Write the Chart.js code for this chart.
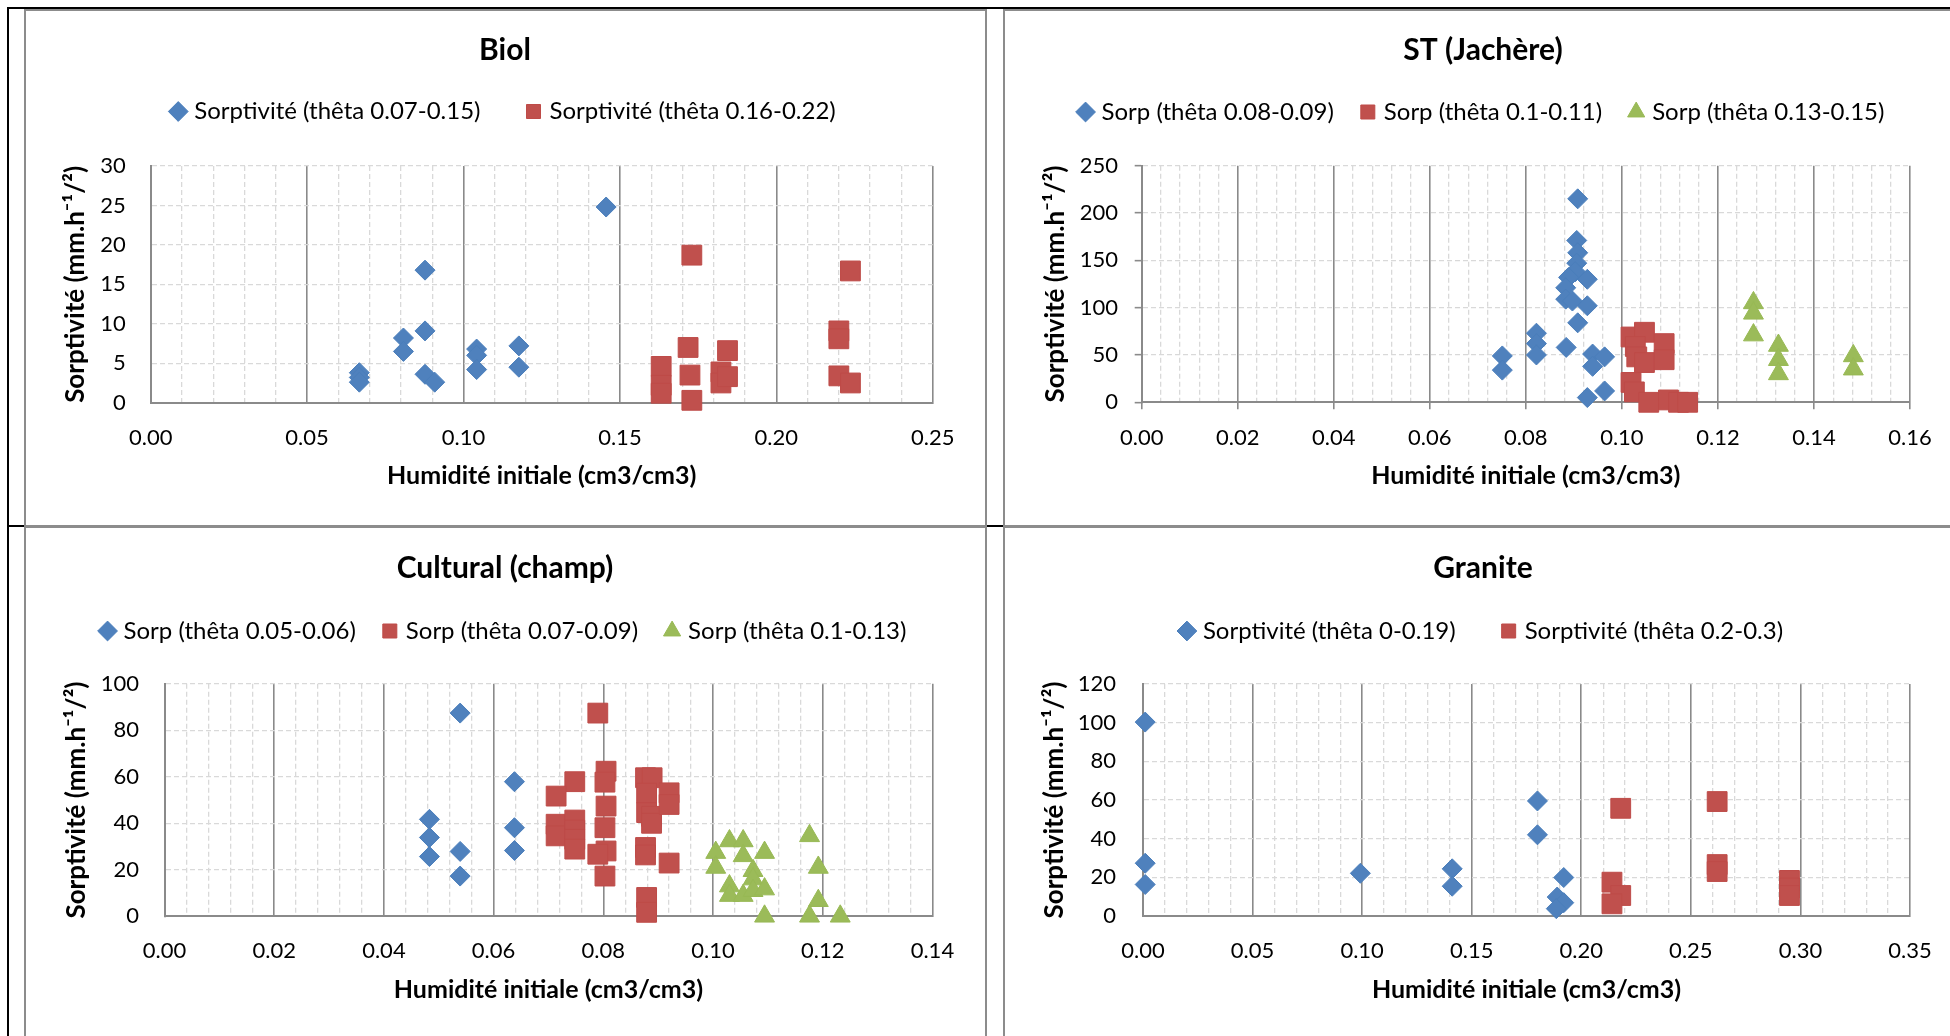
<!DOCTYPE html>
<html lang="fr">
<head>
<meta charset="utf-8">
<title>Sorptivité en fonction de l'humidité initiale</title>
<script src="https://cdn.jsdelivr.net/npm/chart.js@4.4.1/dist/chart.umd.min.js"></script>
<style>
    html, body { margin: 0; padding: 0; background: #fff; width: 1950px; height: 1036px; overflow: hidden; }
    .trait  { position: absolute; background: #000; }
    .cadre  { position: absolute; border: 2px solid #8c8c8c; box-sizing: border-box; }
    canvas  { position: absolute; }
</style>
</head>
<body>

<div class="trait" style="left:7px;top:7px;width:1943px;height:2px"></div>
<div class="trait" style="left:7px;top:7px;width:2px;height:1029px"></div>
<div class="trait" style="left:9px;top:525px;width:15px;height:2px"></div>
<div class="trait" style="left:987px;top:525px;width:16px;height:2px"></div>

<div class="cadre" style="left:24px;top:9px;width:963px;height:519px"></div>
<div class="cadre" style="left:1003px;top:9px;width:960px;height:519px"></div>
<div class="cadre" style="left:24px;top:525px;width:963px;height:600px"></div>
<div class="cadre" style="left:1003px;top:525px;width:960px;height:600px"></div>

<canvas id="cBiol"     width="960" height="515" style="left:25px;top:10px"></canvas>
<canvas id="cJachere"  width="960" height="515" style="left:1003px;top:10px"></canvas>
<canvas id="cCultural" width="960" height="515" style="left:25px;top:526px"></canvas>
<canvas id="cGranite"  width="960" height="515" style="left:1003px;top:526px"></canvas>

<script>
// --- Biol
const biolBleuX  = [0.1456, 0.0877, 0.0877, 0.0808, 0.0808, 0.0667, 0.0667, 0.0667, 0.0877, 0.0908, 0.1042, 0.1042, 0.1042, 0.1177, 0.1177];
const biolBleuY  = [24.8, 16.8, 9.1, 8.2, 6.5, 3.8, 3.2, 2.6, 3.6, 2.6, 6.8, 6.0, 4.2, 7.2, 4.5];
const biolRougeX = [0.1730, 0.2237, 0.2200, 0.2200, 0.2200, 0.2237, 0.1718, 0.1844, 0.1632, 0.1632, 0.1632, 0.1724, 0.1730, 0.1823, 0.1823, 0.1844];
const biolRougeY = [18.7, 16.7, 9.1, 8.1, 3.4, 2.5, 7.0, 6.6, 4.6, 2.2, 1.2, 3.5, 0.3, 3.9, 2.5, 3.3];

// --- ST (Jachère)
const stBleuX  = [0.0908, 0.0906, 0.0908, 0.0906, 0.0903, 0.0889, 0.0928, 0.0883, 0.0883, 0.0897, 0.0928, 0.0908,
                  0.0822, 0.0822, 0.0822, 0.0884, 0.0751, 0.0751, 0.0939, 0.0964, 0.0939, 0.0964, 0.0928];
const stBleuY  = [215, 171, 158, 147, 138, 132, 130, 121, 109, 107, 102, 84,
                  73, 62, 50, 58, 49, 34, 51, 48, 38, 12, 5];
const stRougeX = [0.1019, 0.1047, 0.1028, 0.1031, 0.1047, 0.1088, 0.1088, 0.1019, 0.1026, 0.1056, 0.1097, 0.1118, 0.1137];
const stRougeY = [69, 74, 59, 48, 42, 62, 45, 21, 11, 0, 2.5, 0, 0];
const stVertX  = [0.1274, 0.1274, 0.1274, 0.1326, 0.1326, 0.1326, 0.1482, 0.1482];
const stVertY  = [105, 94, 71, 60, 45, 30, 49, 35];

// --- Cultural (champ)
const cultBleuX  = [0.0539, 0.0638, 0.0638, 0.0638, 0.0483, 0.0483, 0.0483, 0.0539, 0.0539];
const cultBleuY  = [87.4, 57.9, 38.1, 28.3, 41.7, 33.9, 25.7, 27.9, 17.3];
const cultRougeX = [0.0790, 0.0805, 0.0803, 0.0805, 0.0803, 0.0805, 0.0790, 0.0803, 0.0748, 0.0714, 0.0714, 0.0714,
                    0.0748, 0.0748, 0.0748, 0.0748, 0.0877, 0.0889, 0.0879, 0.0879, 0.0888, 0.0888, 0.0877, 0.0877,
                    0.0920, 0.0920, 0.0920, 0.0879, 0.0879];
const cultRougeY = [87.4, 62.4, 57.7, 47.4, 38.1, 28.1, 26.7, 17.3, 57.9, 51.7, 39.6, 34.6,
                    41.4, 37.1, 33.1, 28.9, 59.6, 59.6, 53.0, 44.6, 43.0, 40.0, 29.6, 26.4,
                    53.1, 48.1, 22.9, 8.1, 1.7];
const cultVertX  = [0.1005, 0.1005, 0.1030, 0.1055, 0.1055, 0.1094, 0.1073, 0.1073, 0.1030, 0.1030, 0.1055, 0.1073,
                    0.1094, 0.1094, 0.1176, 0.1192, 0.1192, 0.1176, 0.1232];
const cultVertY  = [27.4, 21.0, 32.4, 32.4, 26.0, 27.4, 19.6, 16.0, 13.0, 8.9, 8.9, 11.0,
                    11.7, 0, 34.6, 21.0, 6.7, 0, 0];

// --- Granite
const granBleuX  = [0.001, 0.001, 0.001, 0.0992, 0.1411, 0.1411, 0.180, 0.180, 0.192, 0.189, 0.192, 0.1886];
const granBleuY  = [100.3, 27.3, 16.3, 22.1, 24.4, 15.4, 59.5, 42.0, 19.9, 9.8, 6.9, 3.8];
const granRougeX = [0.218, 0.262, 0.262, 0.262, 0.214, 0.218, 0.214, 0.295, 0.295, 0.295];
const granRougeY = [55.7, 59.2, 26.6, 23.0, 17.5, 10.6, 6.3, 18.4, 14.5, 10.6];

const titreX = 'Humidité initiale (cm3/cm3)';
const titreY = 'Sorptivité (mm.h⁻¹/²)';

Chart.defaults.font.family = 'Lato, "Noto Sans", sans-serif';
Chart.defaults.color = '#000';

const GRIS = '#8a8a8a';
const GRIS_CLAIR = '#d9d9d9';

const pts = (xs, ys) => xs.map((x, i) => ({ x, y: ys[i] }));

function serie(label, xs, ys, forme) {
    const styles = {
        losange:  { pointStyle: 'rectRot',  pointRadius: 10,   backgroundColor: '#4F81BD', borderColor: '#4A7EBB' },
        carre:    { pointStyle: 'rect',     pointRadius: 14,   backgroundColor: '#C0504D', borderColor: '#BE4B48' },
        triangle: { pointStyle: 'triangle', pointRadius: 11.5, backgroundColor: '#9BBB59', borderColor: '#98B954' },
    };
    return {
        label,
        data: pts(xs, ys),
        showLine: false,
        clip: false,
        borderWidth: 1,
        xAxisID: 'x',
        yAxisID: 'y',
        ...styles[forme]
    };
}

function graphique(id, p) {
    const majeur = v => Math.abs(v / p.xMajor - Math.round(v / p.xMajor)) < 1e-6;

    return new Chart(document.getElementById(id), {
        type: 'scatter',
        data: { datasets: p.datasets },
        options: {
            responsive: false,
            animation: false,
            events: [],
            layout: { padding: { top: p.padTop, bottom: p.padBottom, left: 0, right: 0 } },
            plugins: {
                tooltip: { enabled: false },
                title: {
                    display: true,
                    text: p.titre,
                    color: '#000',
                    font: { size: 30, weight: 'bold', lineHeight: '1px' },
                    padding: { top: 0, bottom: p.titleGap }
                },
                legend: {
                    display: true,
                    position: 'top',
                    labels: {
                        usePointStyle: true,
                        boxWidth: 8,
                        boxHeight: 14,
                        padding: p.legendPad,
                        color: '#000',
                        font: { size: 24 }
                    }
                }
            },
            scales: {
                x: {
                    type: 'linear',
                    position: 'bottom',
                    min: 0,
                    max: p.xMax,
                    afterFit: s => { s.height = p.xHeight; },
                    ticks: {
                        stepSize: p.xStep,
                        autoSkip: false,
                        maxRotation: 0,
                        minRotation: 0,
                        padding: p.xTickPad,
                        color: '#000',
                        font: { size: 22, lineHeight: '26.4px' },
                        callback: v => majeur(v) ? v.toFixed(2) : ''
                    },
                    grid: {
                        color: c => (c.tick && majeur(c.tick.value)) ? GRIS : GRIS_CLAIR,
                        lineWidth: c => (c.tick && majeur(c.tick.value)) ? 1.6 : 1.3,
                        drawTicks: p.marques,
                        tickLength: 7,
                        tickWidth: 1.6,
                        tickColor: c => (c.tick && majeur(c.tick.value)) ? GRIS : 'rgba(0,0,0,0)'
                    },
                    border: {
                        display: true,
                        color: GRIS,
                        width: 2,
                        dash: c => (c.tick && !majeur(c.tick.value)) ? [5, 3] : []
                    },
                    title: {
                        display: true,
                        text: titreX,
                        color: '#000',
                        font: { size: 25, weight: 'bold', lineHeight: '26.4px' },
                        padding: 0
                    }
                },
                y: {
                    type: 'linear',
                    position: 'left',
                    min: 0,
                    max: p.yMax,
                    afterFit: s => { s.width = p.yWidth; },
                    ticks: {
                        stepSize: p.yStep,
                        padding: p.yTickPad,
                        color: '#000',
                        font: { size: 22, lineHeight: '26.4px' }
                    },
                    grid: {
                        color: c => (c.tick && c.tick.value === 0) ? 'rgba(0,0,0,0)' : GRIS_CLAIR,
                        lineWidth: 1.3,
                        drawTicks: p.marques,
                        tickLength: 7,
                        tickWidth: 1.6,
                        tickColor: GRIS
                    },
                    border: {
                        display: true,
                        color: GRIS,
                        width: 2,
                        dash: c => c.tick ? [5, 3] : []
                    },
                    title: {
                        display: true,
                        text: titreY,
                        color: '#000',
                        font: { size: 26, weight: 'bold', lineHeight: '26.4px' },
                        padding: { top: p.yTitlePad, bottom: 0 }
                    }
                },
                // axes vides : ils ne servent qu'à réserver la place autour de la zone de tracé
                xt: {
                    type: 'linear',
                    position: 'top',
                    display: true,
                    ticks: { display: false },
                    grid: { display: false, drawTicks: false },
                    border: { display: false },
                    afterFit: s => { s.height = p.topGap; }
                },
                yr: {
                    type: 'linear',
                    position: 'right',
                    display: true,
                    ticks: { display: false },
                    grid: { display: false, drawTicks: false },
                    border: { display: false },
                    afterFit: s => { s.width = p.rightGap; }
                }
            }
        }
    });
}

graphique('cBiol', {
    titre: 'Biol',
    datasets: [
        serie('Sorptivité (thêta 0.07-0.15)', biolBleuX, biolBleuY, 'losange'),
        serie('Sorptivité (thêta 0.16-0.22)', biolRougeX, biolRougeY, 'carre'),
    ],
    xMax: 0.25, xStep: 0.01, xMajor: 0.05,
    yMax: 30, yStep: 5,
    marques: false,
    padTop: 39.5, titleGap: 0, legendPad: 49, topGap: 32.5,
    yWidth: 125.7, yTickPad: 25, yTitlePad: 37.8, rightGap: 52.3,
    padBottom: 35.8, xHeight: 86.5, xTickPad: 21.6
});

graphique('cJachere', {
    titre: 'ST (Jachère)',
    datasets: [
        serie('Sorp (thêta 0.08-0.09)', stBleuX, stBleuY, 'losange'),
        serie('Sorp (thêta 0.1-0.11)', stRougeX, stRougeY, 'carre'),
        serie('Sorp (thêta 0.13-0.15)', stVertX, stVertY, 'triangle'),
    ],
    xMax: 0.16, xStep: 0.004, xMajor: 0.02,
    yMax: 250, yStep: 50,
    marques: true,
    padTop: 40, titleGap: 19, legendPad: 30, topGap: 31.7,
    yWidth: 138.7, yTickPad: 16.7, yTitlePad: 39.8, rightGap: 53,
    padBottom: 35.8, xHeight: 86.9, xTickPad: 15
});

graphique('cCultural', {
    titre: 'Cultural (champ)',
    datasets: [
        serie('Sorp (thêta 0.05-0.06)', cultBleuX, cultBleuY, 'losange'),
        serie('Sorp (thêta 0.07-0.09)', cultRougeX, cultRougeY, 'carre'),
        serie('Sorp (thêta 0.1-0.13)', cultVertX, cultVertY, 'triangle'),
    ],
    xMax: 0.14, xStep: 0.004, xMajor: 0.02,
    yMax: 100, yStep: 20,
    marques: false,
    padTop: 41.5, titleGap: 20.5, legendPad: 30, topGap: 30.8,
    yWidth: 139.5, yTickPad: 25.5, yTitlePad: 38.8, rightGap: 52.6,
    padBottom: 37.8, xHeight: 86.9, xTickPad: 21.5
});

graphique('cGranite', {
    titre: 'Granite',
    datasets: [
        serie('Sorptivité (thêta 0-0.19)', granBleuX, granBleuY, 'losange'),
        serie('Sorptivité (thêta 0.2-0.3)', granRougeX, granRougeY, 'carre'),
    ],
    xMax: 0.35, xStep: 0.01, xMajor: 0.05,
    yMax: 120, yStep: 20,
    marques: false,
    padTop: 41.5, titleGap: 1.5, legendPad: 49, topGap: 31,
    yWidth: 140, yTickPad: 27, yTitlePad: 38.8, rightGap: 53,
    padBottom: 37.8, xHeight: 87.2, xTickPad: 21.8
});
</script>
</body>
</html>
